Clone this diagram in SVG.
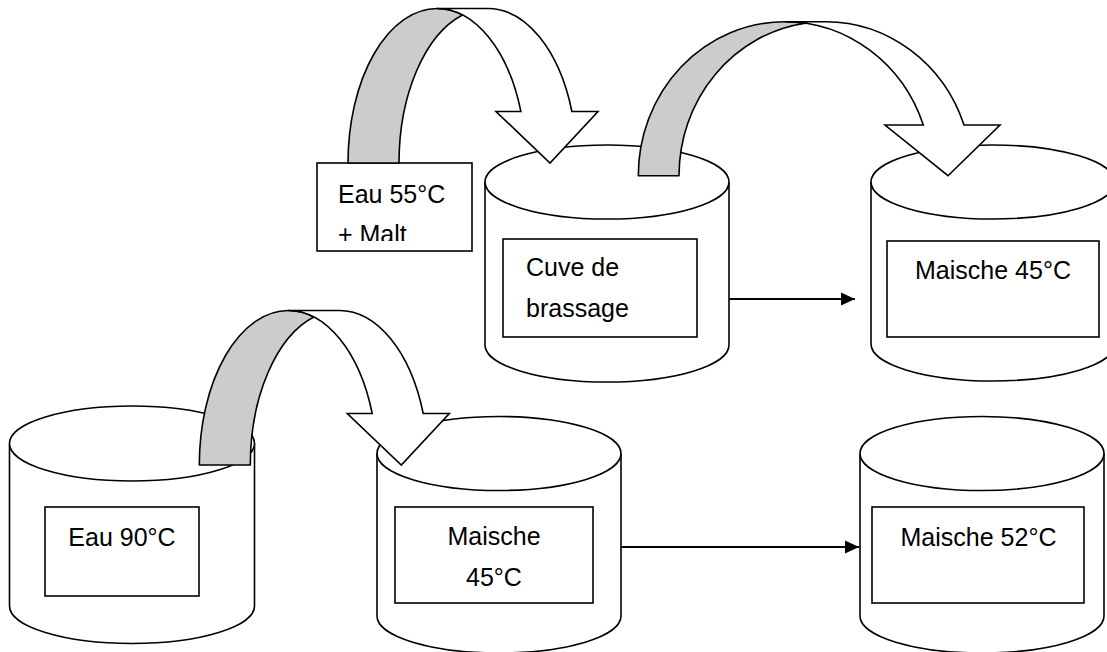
<svg xmlns="http://www.w3.org/2000/svg" width="1107" height="652" viewBox="0 0 1107 652">
<style>
.cyl{fill:#ffffff;stroke:#000000;stroke-width:1.6}
.box{fill:#ffffff;stroke:#000000;stroke-width:1.6}
.lbl{font-family:"Liberation Sans",Arial,sans-serif;font-size:25px;fill:#000000}
.mid{text-anchor:middle}
.band{fill:#cccccc;stroke:#000000;stroke-width:1.6;stroke-linejoin:round}
.front{fill:#ffffff;stroke:#000000;stroke-width:1.6;stroke-linejoin:miter}
.conn{stroke:#000000;stroke-width:2;fill:none}
</style>
<defs>
<marker id="ah" markerUnits="userSpaceOnUse" markerWidth="15" markerHeight="14" refX="14" refY="7" orient="auto">
<path d="M0,0.5 L14,7 L0,13.5 Z" fill="#000000"/>
</marker>
<clipPath id="clipMalt"><rect x="317" y="163" width="155" height="78"/></clipPath>
<g id="curvedA">
<path class="band" d="M348,163 A89,154.5 0 0 1 437,8.5 A89,154.5 0 0 1 462.5,15 A89,154.5 0 0 0 399,163 Z"/>
<path class="front" d="M437,8.5 L488,8.5 A89,154.5 0 0 1 571.9,111.5 L598,111.5 L550,163 L496,111.5 L520.9,111.5 A89,154.5 0 0 0 437,8.5 Z"/>
</g>
</defs>
<rect width="1107" height="652" fill="#ffffff"/>

<g id="eau55">
<rect class="box" x="317" y="163" width="155" height="88"/>
<text class="lbl" x="338" y="203">Eau 55°C</text>
<text class="lbl" x="338" y="243" clip-path="url(#clipMalt)">+ Malt</text>
</g>

<g id="cuve">
<path class="cyl" d="M485,182 L485,345 A122,37 0 0 0 729,345 L729,182"/>
<ellipse class="cyl" cx="607" cy="182" rx="122" ry="37"/>
<rect class="box" x="503" y="239" width="194" height="98"/>
<text class="lbl" x="526" y="276">Cuve de</text>
<text class="lbl" x="526" y="317">brassage</text>
</g>

<g id="maische45top">
<path class="cyl" d="M871,182 L871,344 A122,37 0 0 0 1115,344 L1115,182"/>
<ellipse class="cyl" cx="993" cy="182" rx="122" ry="37"/>
<rect class="box" x="887" y="241" width="212" height="96"/>
<text class="lbl mid" x="993" y="279">Maische 45°C</text>
</g>

<g id="eau90">
<path class="cyl" d="M9.5,443.5 L9.5,606 A122.5,37.5 0 0 0 254.5,606 L254.5,443.5"/>
<ellipse class="cyl" cx="132" cy="443.5" rx="122.5" ry="37.5"/>
<rect class="box" x="45" y="507" width="154" height="89"/>
<text class="lbl mid" x="122" y="546">Eau 90°C</text>
</g>

<g id="maische45bottom">
<path class="cyl" d="M377,453.5 L377,616 A122,37 0 0 0 621,616 L621,453.5"/>
<ellipse class="cyl" cx="499" cy="453.5" rx="122" ry="37"/>
<rect class="box" x="395" y="507" width="198" height="96"/>
<text class="lbl mid" x="494" y="545">Maische</text>
<text class="lbl mid" x="494" y="586">45°C</text>
</g>

<g id="maische52">
<path class="cyl" d="M860,453.5 L860,616 A122,37 0 0 0 1104,616 L1104,453.5"/>
<ellipse class="cyl" cx="982" cy="453.5" rx="122" ry="37"/>
<rect class="box" x="872" y="507" width="212" height="96"/>
<text class="lbl mid" x="978.5" y="546">Maische 52°C</text>
</g>

<g id="connectors">
<use href="#curvedA"/>
<use href="#curvedA" transform="translate(-148.7,302)"/>
<g id="curvedB">
<path class="band" d="M638.3,175.7 A146.6,154 0 0 1 784.9,21.7 A146.6,154 0 0 1 805.25,23.2 A146.6,154 0 0 0 679,175.7 Z"/>
<path class="front" d="M784.9,21.7 L825.6,21.7 A146.6,154 0 0 1 964,125 L1000,125 L948,175.7 L885,125 L923.3,125 A146.6,154 0 0 0 784.9,21.7 Z"/>
</g>
<line class="conn" x1="729" y1="299" x2="855" y2="299" marker-end="url(#ah)"/>
<line class="conn" x1="621" y1="547" x2="859" y2="547" marker-end="url(#ah)"/>
</g>
</svg>
